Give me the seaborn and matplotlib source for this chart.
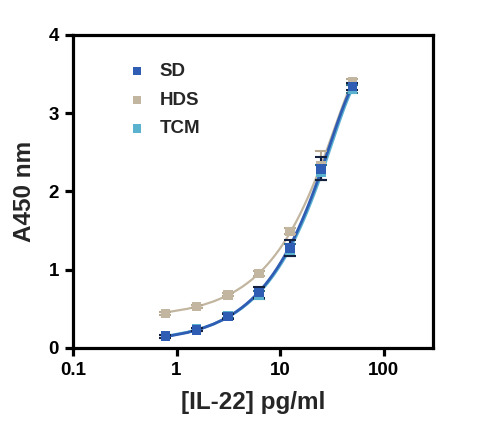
import numpy as np
import pandas as pd
import matplotlib
matplotlib.use("Agg")
import matplotlib.pyplot as plt
import seaborn as sns
from matplotlib.ticker import FixedLocator, FixedFormatter, NullLocator

conc = [0.78, 1.56, 3.125, 6.25, 12.5, 25, 50]
sd_vals = [0.15, 0.23, 0.40, 0.71, 1.28, 2.29, 3.34]
sd_err = [0.02, 0.02, 0.03, 0.07, 0.10, 0.15, 0.05]
hds_vals = [0.44, 0.53, 0.68, 0.95, 1.49, 2.33, 3.40]
hds_err = [0.02, 0.02, 0.02, 0.03, 0.04, 0.19, 0.04]
tcm_vals = [0.15, 0.24, 0.41, 0.68, 1.25, 2.24, 3.31]
tcm_err = [0.02, 0.02, 0.03, 0.05, 0.08, 0.10, 0.05]
series = ["SD", "HDS", "TCM"]
colors = {"SD": "#2E5DB3", "HDS": "#C3B6A0", "TCM": "#5BB2CF"}
err_colors = {"SD": "#14203F", "HDS": "#B8AA90", "TCM": "#2E6F86"}
xticks = [0.1, 1, 10, 100]
xticklabels = ["0.1", "1", "10", "100"]
yticks = [0, 1, 2, 3, 4]

sns.set_theme(style="white")
plt.rcParams["font.family"] = ["Liberation Sans", "DejaVu Sans"]
plt.rcParams["font.weight"] = "bold"

fig = plt.figure(figsize=(5.0, 4.36), dpi=100)
ax = fig.add_axes([0.146, 0.202, 0.72, 0.718])
ax.set_xscale("log")

data = {"SD": (sd_vals, sd_err), "HDS": (hds_vals, hds_err), "TCM": (tcm_vals, tcm_err)}
order = ["HDS", "TCM", "SD"]
for name in order:
    vals, err = data[name]
    df = pd.DataFrame({"x": conc, "y": vals})
    sns.regplot(data=df, x="x", y="y", order=2, ci=None, scatter=False, ax=ax,
                line_kws={"color": colors[name], "lw": 2.0 if name != "HDS" else 1.6, "zorder": 2})
    ax.errorbar(conc, vals, yerr=err, fmt="none", ecolor=err_colors[name], elinewidth=1.5,
                capsize=4, capthick=1.5, zorder=3)
    sns.scatterplot(data=df, x="x", y="y", marker="s", s=48, color=colors[name],
                    edgecolor="none", ax=ax, zorder=4, label=name)

ax.set_xlim(0.1, 300)
ax.set_ylim(0, 4)
ax.xaxis.set_major_locator(FixedLocator(xticks))
ax.xaxis.set_major_formatter(FixedFormatter(xticklabels))
ax.xaxis.set_minor_locator(NullLocator())
ax.set_yticks(yticks)
for s in ax.spines.values():
    s.set_linewidth(2.3)
    s.set_color("black")
ax.tick_params(axis="both", which="major", direction="out", length=6, width=2.3,
               labelsize=13.5, color="black", labelcolor="black", pad=4, bottom=True, left=True)
for lab in ax.get_xticklabels() + ax.get_yticklabels():
    lab.set_fontweight("bold")
ax.set_xlabel("[IL-22] pg/ml", fontsize=17.5, fontweight="bold", labelpad=9)
ax.set_ylabel("A450 nm", fontsize=17.5, fontweight="bold", labelpad=9)

handles, labels = ax.get_legend_handles_labels()
hmap = dict(zip(labels, handles))
leg = ax.legend([hmap[n] for n in series], series, loc="upper left", bbox_to_anchor=(0.105, 0.935),
                frameon=False, fontsize=13.5, handletextpad=0.2, labelspacing=0.62, markerscale=0.85,
                borderaxespad=0)
for t in leg.get_texts():
    t.set_fontweight("bold")

fig.savefig("out.png", dpi=100)
